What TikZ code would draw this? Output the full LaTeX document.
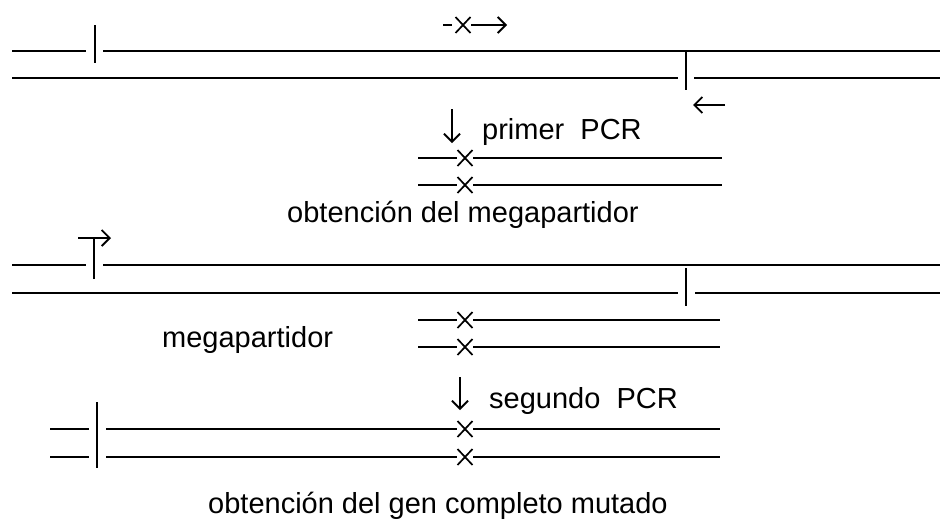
\documentclass[tikz,border=0pt]{standalone}
\usepackage{fontspec}
\setmainfont{Liberation Sans}
\usetikzlibrary{arrows.meta}
\begin{document}
\begin{tikzpicture}[x=1pt,y=-1pt,
  strand/.style={line width=2.2pt},
  bar/.style={line width=2.2pt},
  arr/.style={line width=1.8pt,-{Straight Barb[length=8pt,width=16pt,line width=1.8pt]}},
  lbl/.style={anchor=base west,inner sep=0pt,font=\fontsize{29}{32}\selectfont},
  mut/.style={line width=1.7pt}]
\useasboundingbox (0,0) rectangle (940,523);
% mutation cross
\newcommand{\mutx}[2]{\draw[mut] (#1-7.5,#2-8) -- (#1+7.5,#2+8) (#1-7.5,#2+8) -- (#1+7.5,#2-8);}
% ---------- row 1: template ----------
\coordinate (a1) at (12,51); \coordinate (a2) at (86,51);
\coordinate (a3) at (103,51); \coordinate (a4) at (940,51);
\draw[strand] (a1) -- (a2); \draw[strand] (a3) -- (a4);
\coordinate (b1) at (95,25); \coordinate (b2) at (95,63);
\draw[bar] (b1) -- (b2);
\coordinate (c1) at (12,78); \coordinate (c2) at (678,78);
\coordinate (c3) at (694,78); \coordinate (c4) at (940,78);
\draw[strand] (c1) -- (c2); \draw[strand] (c3) -- (c4);
\coordinate (d1) at (686,52); \coordinate (d2) at (686,90);
\draw[bar] (d1) -- (d2);
% mutagenic primer
\coordinate (p1) at (443,25); \coordinate (p2) at (452,25);
\coordinate (p3) at (471,25); \coordinate (p4) at (507,25);
\draw[line width=2.4pt] (p1) -- (p2);
\mutx{463}{25}
\draw[arr] (p3) -- (p4);
% reverse primer
\coordinate (r1) at (725,105); \coordinate (r2) at (693,105);
\draw[arr] (r1) -- (r2);
% primer PCR
\coordinate (q1) at (452,109); \coordinate (q2) at (452,143);
\draw[arr] (q1) -- (q2);
\node[lbl] (t1) at (482,139) {primer\ \ PCR};
% products
\foreach \y in {158,185}{
  \draw[strand] (418,\y) -- (457,\y);
  \mutx{465}{\y}
  \draw[strand] (473,\y) -- (722,\y);
}
\node[lbl] (t2) at (287,222) {obtención del megapartidor};
% ---------- row 3 ----------
\draw[strand] (12,265) -- (86,265); \draw[strand] (103,265) -- (940,265);
\coordinate (e1) at (94,279); \coordinate (e2) at (94,238);
\draw[bar] (e1) -- (e2);
\coordinate (f1) at (78,238); \coordinate (f2) at (111,238);
\draw[arr] (f1) -- (f2);
\draw[strand] (12,293) -- (678,293); \draw[strand] (695,293) -- (940,293);
\coordinate (g1) at (686,268); \coordinate (g2) at (686,306);
\draw[bar] (g1) -- (g2);
\foreach \y in {320,347}{
  \draw[strand] (418,\y) -- (457,\y);
  \mutx{465}{\y}
  \draw[strand] (473,\y) -- (720,\y);
}
\node[lbl] (t3) at (162,347) {megapartidor};
% segundo PCR
\coordinate (s1) at (460,377); \coordinate (s2) at (460,410);
\draw[arr] (s1) -- (s2);
\node[lbl] (t4) at (489,408) {segundo\ \ PCR};
% final product
\coordinate (h1) at (97,402); \coordinate (h2) at (97,468);
\draw[bar] (h1) -- (h2);
\foreach \y in {429,457}{
  \draw[strand] (50,\y) -- (89,\y);
  \draw[strand] (106,\y) -- (457,\y);
  \mutx{465}{\y}
  \draw[strand] (473,\y) -- (720,\y);
}
\node[lbl] (t5) at (208,513) {obtención del gen completo mutado};
\end{tikzpicture}
\end{document}
